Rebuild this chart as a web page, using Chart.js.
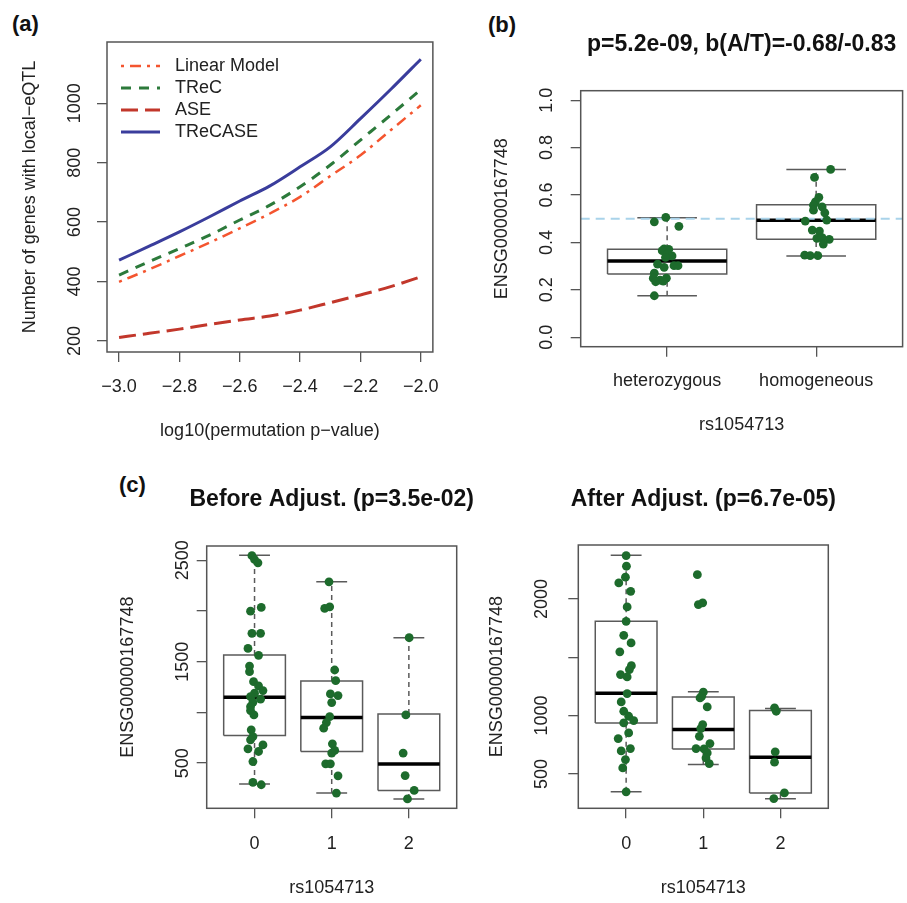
<!DOCTYPE html>
<html>
<head>
<meta charset="utf-8">
<script src="https://cdn.jsdelivr.net/npm/chart.js@4.4.0/dist/chart.umd.min.js"></script>
<style>
  html, body { margin: 0; padding: 0; background: #fff; overflow: hidden; }
  body { width: 907px; height: 903px; position: relative; font-family: 'Liberation Sans', Arial, sans-serif; }
  canvas { position: absolute; }
  .tag { position: absolute; font-weight: bold; font-size: 22px; line-height: 22px; color: #111; }
</style>
</head>
<body>
<div class="tag" style="left:12px;top:13px">(a)</div>
<div class="tag" style="left:488px;top:14px">(b)</div>
<div class="tag" style="left:119px;top:474px">(c)</div>
<canvas id="chartA" width="453" height="455" style="left:0;top:0"></canvas>
<canvas id="chartB" width="454" height="455" style="left:453px;top:0"></canvas>
<canvas id="chartC1" width="420" height="443" style="left:100px;top:460px"></canvas>
<canvas id="chartC2" width="420" height="443" style="left:460px;top:460px"></canvas>
<script>
// ---- (a) number of genes with local-eQTL ----
const aX = [-3.0, -2.9, -2.8, -2.7, -2.6, -2.5, -2.4, -2.3, -2.2, -2.1, -2.0];
const aLinear = [399, 441, 486, 531, 579, 629, 685, 755, 825, 909, 993];
const aTReC = [422, 467, 511, 556, 607, 657, 719, 792, 876, 960, 1046];
const aASE = [212, 226, 240, 256, 271, 284, 304, 329, 355, 383, 416];
const aTReCASE = [472, 519, 567, 618, 671, 722, 786, 853, 948, 1046, 1148];
const aNames = ['Linear Model', 'TReC', 'ASE', 'TReCASE'];
const aXTicks = [-3.0, -2.8, -2.6, -2.4, -2.2, -2.0];
const aXTickLabels = ['\u22123.0', '\u22122.8', '\u22122.6', '\u22122.4', '\u22122.2', '\u22122.0'];
const aYTicks = [200, 400, 600, 800, 1000];
const aYTickLabels = ['200', '400', '600', '800', '1000'];

// ---- (b) allele specific ratio ----
const bCats = ['heterozygous', 'homogeneous'];
const bQ1 = [0.267, 0.413];
const bMedian = [0.322, 0.493];
const bQ3 = [0.371, 0.559];
const bLow = [0.175, 0.343];
const bHigh = [0.504, 0.708];
const bHetPts = [0.506, 0.487, 0.468, 0.373, 0.371, 0.365, 0.351, 0.343, 0.337, 0.308, 0.295, 0.302, 0.302, 0.270, 0.249, 0.241, 0.249, 0.234, 0.237, 0.175];
const bHetJit = [-0.009, -0.086, 0.079, -0.02, 0.011, -0.033, 0.002, 0.033, -0.011, -0.064, -0.02, 0.046, 0.073, -0.086, -0.093, -0.048, -0.005, -0.077, -0.026, -0.086];
const bHomPts = [0.708, 0.674, 0.590, 0.571, 0.557, 0.550, 0.536, 0.525, 0.494, 0.490, 0.452, 0.448, 0.417, 0.420, 0.413, 0.393, 0.346, 0.344, 0.344];
const bHomJit = [0.097, -0.011, 0.018, -0.005, -0.018, 0.04, -0.018, 0.058, 0.071, -0.073, -0.026, 0.022, 0.005, 0.04, 0.088, 0.048, -0.077, -0.04, 0.011];
const bRefLine = 0.5;
const bYTicks = [0, 0.2, 0.4, 0.6, 0.8, 1.0];
const bYTickLabels = ['0.0', '0.2', '0.4', '0.6', '0.8', '1.0'];

// ---- (c) total expression by genotype ----
const cGenotypes = ['0', '1', '2'];
const c1Q1 = [772, 615, 231];
const c1Median = [1149, 949, 491];
const c1Q3 = [1566, 1310, 985];
const c1Low = [294, 205, 147];
const c1High = [2549, 2287, 1736];
const c1Pts0 = [2545, 2507, 2474, 1998, 2035, 1779, 1779, 1631, 1563, 1457, 1401, 1303, 1261, 1215, 1189, 1156, 1130, 1100, 1057, 1018, 975, 828, 762, 730, 680, 641, 615, 516, 310, 287];
const c1Jit0 = [-0.034, 0, 0.044, -0.052, 0.087, -0.034, 0.078, -0.085, 0.052, -0.065, -0.065, -0.013, 0.052, 0.109, 0, -0.052, 0.078, -0.021, -0.052, -0.052, -0.008, -0.043, -0.021, -0.052, 0.109, -0.085, 0.052, -0.021, -0.021, 0.087];
const c1Pts1 = [2287, 2025, 2041, 1418, 1313, 1182, 1166, 1097, 959, 900, 845, 690, 625, 599, 493, 493, 375, 205];
const c1Jit1 = [-0.035, -0.091, -0.026, 0.039, 0.052, -0.017, 0.082, 0, -0.026, -0.069, -0.104, 0.009, 0.039, 0, -0.078, -0.017, 0.082, 0.061];
const c1Pts2 = [1736, 975, 599, 378, 231, 147];
const c1Jit2 = [0.004, -0.039, -0.074, -0.048, 0.069, -0.018];
const c1YTicks = [500, 1000, 1500, 2000, 2500];
const c1YLabelled = [500, 1500, 2500];

const c2Q1 = [937, 714, 337];
const c2Median = [1191, 880, 642];
const c2Q3 = [1808, 1160, 1043];
const c2Low = [346, 580, 286];
const c2High = [2374, 1205, 1060];
const c2Pts0 = [2371, 2280, 2186, 2137, 2065, 1931, 1808, 1688, 1623, 1546, 1428, 1394, 1351, 1331, 1188, 1117, 1037, 994, 957, 937, 851, 803, 717, 697, 623, 551, 346];
const c2Jit0 = [0, 0.004, -0.009, -0.095, 0.059, 0.013, 0, -0.031, 0.064, -0.082, 0.068, 0.042, -0.073, 0.013, 0.013, -0.064, -0.031, 0.033, 0.098, -0.031, 0.033, -0.103, 0.055, -0.064, -0.009, -0.044, 0];
const c2Pts1 = [2208, 1951, 1966, 1200, 1165, 1151, 1074, 923, 888, 822, 717, 714, 760, 680, 637, 588];
const c2Jit1 = [-0.077, -0.064, -0.008, 0, -0.021, -0.042, 0.051, -0.008, -0.033, -0.051, -0.094, 0.009, 0.086, 0.051, 0.035, 0.077];
const c2Pts2 = [1066, 1037, 689, 600, 337, 288];
const c2Jit2 = [-0.077, -0.055, -0.068, -0.077, 0.051, -0.086];
const c2YTicks = [500, 1000, 1500, 2000];
const c2YLabelled = [500, 1000, 2000];

const FONT = "'Liberation Sans', Arial, Helvetica, sans-serif";
Chart.defaults.font.family = FONT;
Chart.defaults.font.size = 18;
Chart.defaults.color = '#222';

const gridOpts = { drawOnChartArea: false, drawTicks: true, tickLength: 10, color: '#555', lineWidth: 1.3 };

// box round the plot region, like R's box()
const framePlugin = {
  id: 'frame',
  afterDatasetsDraw(chart) {
    const { ctx, chartArea: a } = chart;
    ctx.save();
    ctx.strokeStyle = '#555';
    ctx.lineWidth = 1.5;
    ctx.strokeRect(a.left, a.top, a.right - a.left, a.bottom - a.top);
    ctx.restore();
  }
};

// y tick labels written parallel to the axis
const yLabelPlugin = {
  id: 'yLabels',
  afterDraw(chart, args, opts) {
    const y = chart.scales.y, ctx = chart.ctx;
    ctx.save();
    ctx.font = '18px ' + FONT;
    ctx.fillStyle = '#222';
    ctx.textAlign = 'center';
    ctx.textBaseline = 'middle';
    opts.values.forEach((v, i) => {
      ctx.save();
      ctx.translate(opts.x, y.getPixelForValue(v));
      ctx.rotate(-Math.PI / 2);
      ctx.fillText(opts.labels[i], 0, 0);
      ctx.restore();
    });
    ctx.restore();
  }
};

// title centred over the plot region
const titlePlugin = {
  id: 'panelTitle',
  afterDraw(chart, args, opts) {
    if (!opts.text) return;
    const a = chart.chartArea, ctx = chart.ctx;
    ctx.save();
    ctx.font = 'bold 23px ' + FONT;
    ctx.fillStyle = '#111';
    ctx.textAlign = 'center';
    ctx.textBaseline = 'middle';
    ctx.fillText(opts.text, (a.left + a.right) / 2, opts.y);
    ctx.restore();
  }
};

// legend with line samples inside the plot
const lineLegendPlugin = {
  id: 'lineLegend',
  afterDraw(chart, args, opts) {
    const ctx = chart.ctx;
    ctx.save();
    ctx.font = '18px ' + FONT;
    chart.data.datasets.forEach((ds, i) => {
      const y = opts.top + i * opts.step;
      ctx.strokeStyle = ds.borderColor;
      ctx.lineWidth = ds.borderWidth;
      ctx.setLineDash(ds.borderDash || []);
      ctx.beginPath();
      ctx.moveTo(opts.x, y);
      ctx.lineTo(opts.x + opts.len, y);
      ctx.stroke();
      ctx.setLineDash([]);
      ctx.fillStyle = '#222';
      ctx.textAlign = 'left';
      ctx.textBaseline = 'middle';
      ctx.fillText(ds.label, opts.textX, y);
    });
    ctx.restore();
  }
};

const aStyles = [
  { color: '#f4552f', width: 2.5, dash: [3, 6, 11, 6] },
  { color: '#2c7a3b', width: 3, dash: [10, 8] },
  { color: '#c2372b', width: 3, dash: [17, 7] },
  { color: '#3a3d9c', width: 3, dash: [] }
];

new Chart(document.getElementById('chartA'), {
  type: 'line',
  data: {
    datasets: [aLinear, aTReC, aASE, aTReCASE].map((vals, i) => ({
      label: aNames[i],
      data: aX.map((x, j) => ({ x: x, y: vals[j] })),
      borderColor: aStyles[i].color,
      borderWidth: aStyles[i].width,
      borderDash: aStyles[i].dash,
      pointRadius: 0,
      fill: false,
      cubicInterpolationMode: 'monotone'
    }))
  },
  options: {
    responsive: false,
    animation: false,
    layout: { padding: { top: 42, right: 12, left: 0, bottom: 0 } },
    plugins: {
      legend: { display: false },
      tooltip: { enabled: false },
      yLabels: { x: 75, values: aYTicks, labels: aYTickLabels },
      lineLegend: { x: 121, len: 39, textX: 175, top: 66, step: 22 }
    },
    scales: {
      x: {
        type: 'linear', min: -3.04, max: -1.96,
        afterBuildTicks: s => { s.ticks = aXTicks.map(v => ({ value: v })); },
        ticks: { autoSkip: false, maxRotation: 0, padding: 14, callback: (v, i) => aXTickLabels[i] },
        grid: gridOpts,
        border: { display: false },
        title: { display: true, text: 'log10(permutation p\u2212value)', padding: { top: 0, bottom: 13 } },
        afterFit: s => { s.height = 103; }
      },
      y: {
        type: 'linear', min: 163, max: 1206,
        afterBuildTicks: s => { s.ticks = aYTicks.map(v => ({ value: v })); },
        ticks: { display: false },
        grid: gridOpts,
        border: { display: false },
        title: { display: true, text: 'Number of genes with local\u2212eQTL', padding: { top: 19, bottom: 0 } },
        afterFit: s => { s.width = 107; }
      }
    }
  },
  plugins: [framePlugin, yLabelPlugin, lineLegendPlugin]
});

function seg(data, color, width, dash) {
  return {
    data: data, showLine: true, borderColor: color, borderWidth: width,
    borderDash: dash || [], pointRadius: 0, pointHoverRadius: 0, fill: false, tension: 0
  };
}

function boxChart(id, p) {
  const edge = '#5a5a5a';
  const datasets = [];
  // jittered points first so they sit on top
  datasets.push({
    data: p.points.flatMap((vals, g) => vals.map((v, k) => ({ x: g + 1 + p.jitter[g][k], y: v }))),
    showLine: false, pointRadius: 4.4, pointHoverRadius: 4.4,
    pointBackgroundColor: '#1d6b2c', pointBorderWidth: 0
  });
  if (p.refLine !== undefined) {
    datasets.push(seg([{ x: p.xMin, y: p.refLine }, { x: p.xMax, y: p.refLine }], '#a9d3ea', 2, [9, 6]));
  }
  p.cats.forEach((c, g) => {
    const x = g + 1;
    datasets.push(seg([{ x: x - 0.4, y: p.med[g] }, { x: x + 0.4, y: p.med[g] }], '#000', 3.5));
    datasets.push(seg([{ x: x - 0.4, y: p.q1[g] }, { x: x + 0.4, y: p.q1[g] }, { x: x + 0.4, y: p.q3[g] },
      { x: x - 0.4, y: p.q3[g] }, { x: x - 0.4, y: p.q1[g] }], edge, 1.5));
    datasets.push(seg([{ x: x, y: p.q3[g] }, { x: x, y: p.hi[g] }], edge, 1.5, [5, 4]));
    datasets.push(seg([{ x: x, y: p.lo[g] }, { x: x, y: p.q1[g] }], edge, 1.5, [5, 4]));
    datasets.push(seg([{ x: x - 0.2, y: p.hi[g] }, { x: x + 0.2, y: p.hi[g] }], edge, 1.5));
    datasets.push(seg([{ x: x - 0.2, y: p.lo[g] }, { x: x + 0.2, y: p.lo[g] }], edge, 1.5));
  });

  return new Chart(document.getElementById(id), {
    type: 'scatter',
    data: { datasets: datasets },
    options: {
      responsive: false,
      animation: false,
      layout: { padding: { top: p.top, right: p.right, left: 0, bottom: 0 } },
      plugins: {
        legend: { display: false },
        tooltip: { enabled: false },
        panelTitle: { text: p.title, y: p.titleY },
        yLabels: { x: p.yLabelX, values: p.yLabelled, labels: p.yLabelText }
      },
      scales: {
        x: {
          type: 'linear', min: p.xMin, max: p.xMax,
          afterBuildTicks: s => { s.ticks = p.cats.map((c, g) => ({ value: g + 1 })); },
          ticks: { autoSkip: false, maxRotation: 0, padding: p.xPad, callback: (v) => p.cats[Math.round(v) - 1] },
          grid: gridOpts,
          border: { display: false },
          title: { display: true, text: 'rs1054713', padding: { top: 0, bottom: p.xTitlePad } },
          afterFit: s => { s.height = p.xHeight; }
        },
        y: {
          type: 'linear', min: p.yMin, max: p.yMax,
          afterBuildTicks: s => { s.ticks = p.yTicks.map(v => ({ value: v })); },
          ticks: { display: false },
          grid: gridOpts,
          border: { display: false },
          title: { display: true, text: 'ENSG00000167748', padding: { top: p.yTitlePad, bottom: 0 } },
          afterFit: s => { s.width = p.yWidth; }
        }
      }
    },
    plugins: [framePlugin, yLabelPlugin, titlePlugin]
  });
}

boxChart('chartB', {
  cats: bCats, q1: bQ1, med: bMedian, q3: bQ3, lo: bLow, hi: bHigh,
  points: [bHetPts, bHomPts], jitter: [bHetJit, bHomJit], refLine: bRefLine,
  xMin: 0.42, xMax: 2.58, yMin: -0.04, yMax: 1.04,
  yTicks: bYTicks, yLabelled: bYTicks, yLabelText: bYTickLabels,
  title: 'p=5.2e-09, b(A/T)=-0.68/-0.83', titleY: 45,
  top: 90.7, right: 1, yWidth: 127.7, yTitlePad: 38, yLabelX: 93.7,
  xHeight: 108.3, xPad: 14, xTitlePad: 19
});

boxChart('chartC1', {
  cats: cGenotypes, q1: c1Q1, med: c1Median, q3: c1Q3, lo: c1Low, hi: c1High,
  points: [c1Pts0, c1Pts1, c1Pts2], jitter: [c1Jit0, c1Jit1, c1Jit2],
  xMin: 0.38, xMax: 3.62, yMin: 55, yMax: 2640,
  yTicks: c1YTicks, yLabelled: c1YLabelled, yLabelText: c1YLabelled.map(String),
  title: 'Before Adjust. (p=3.5e-02)', titleY: 40,
  top: 86, right: 63.3, yWidth: 106.7, yTitlePad: 17, yLabelX: 82.7,
  xHeight: 94.7, xPad: 15, xTitlePad: 4
});

boxChart('chartC2', {
  cats: cGenotypes, q1: c2Q1, med: c2Median, q3: c2Q3, lo: c2Low, hi: c2High,
  points: [c2Pts0, c2Pts1, c2Pts2], jitter: [c2Jit0, c2Jit1, c2Jit2],
  xMin: 0.38, xMax: 3.62, yMin: 205, yMax: 2462,
  yTicks: c2YTicks, yLabelled: c2YLabelled, yLabelText: c2YLabelled.map(String),
  title: 'After Adjust. (p=6.7e-05)', titleY: 40,
  top: 85, right: 51.7, yWidth: 118.3, yTitlePad: 26, yLabelX: 81.7,
  xHeight: 94.7, xPad: 15, xTitlePad: 4
});
</script>
</body>
</html>
